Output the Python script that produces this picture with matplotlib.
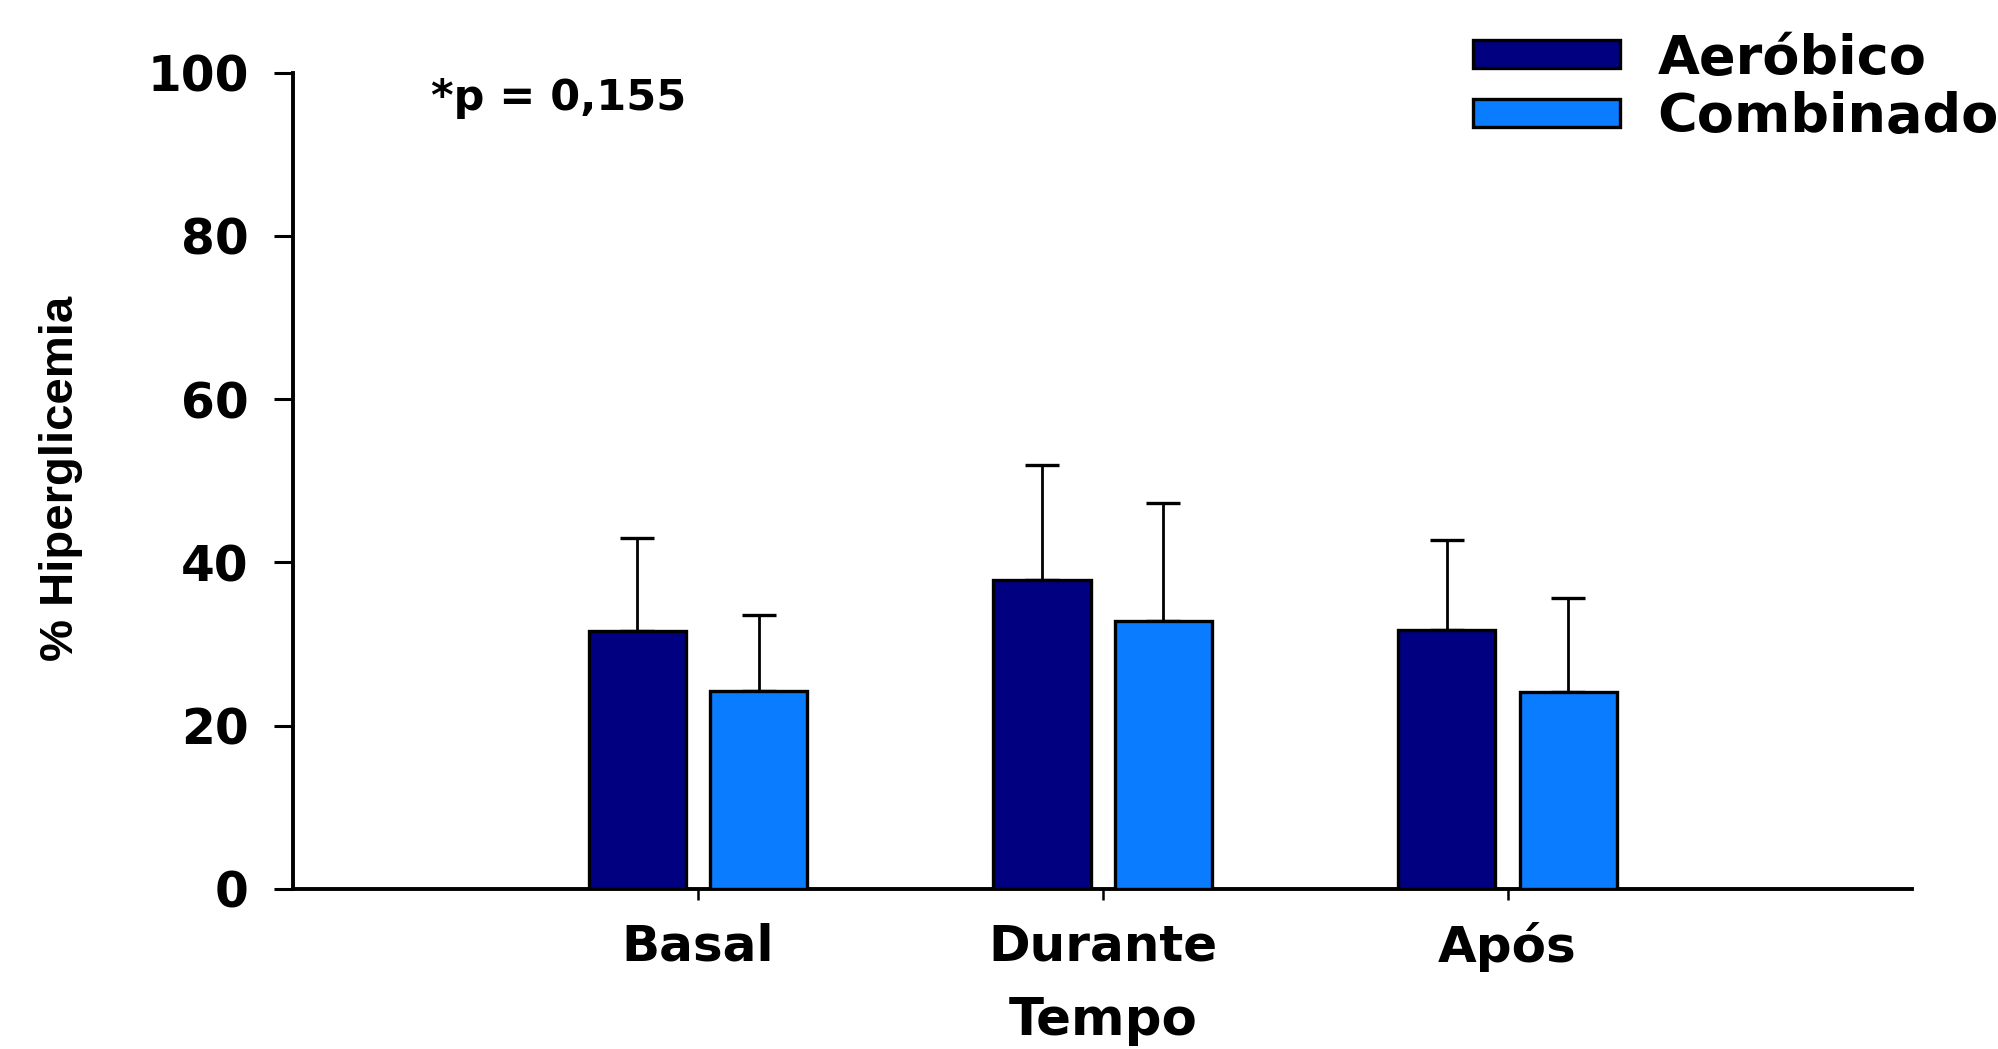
import matplotlib
matplotlib.use("Agg")
import matplotlib.pyplot as plt
from matplotlib import font_manager
import numpy as np

categories = ["Basal", "Durante", "Após"]
series_names = ["Aeróbico", "Combinado"]
aerobico = [31.6, 37.8, 31.7]
aerobico_err = [11.4, 14.1, 11.0]
combinado = [24.2, 32.8, 24.1]
combinado_err = [9.4, 14.5, 11.5]
yticks = [0, 20, 40, 60, 80, 100]
annotation = "*p = 0,155"
xlabel = "Tempo"
ylabel = "% Hiperglicemia"

colors = ["#000080", "#0A7CFF"]

def has_font(name):
    try:
        font_manager.findfont(font_manager.FontProperties(family=name, weight="bold"),
                              fallback_to_default=False)
        return True
    except Exception:
        return False

main_font = "DejaVu Sans"
ylab_font = "Liberation Sans Narrow" if has_font("Liberation Sans Narrow") else "Liberation Sans"

plt.rcParams["font.family"] = [main_font]
plt.rcParams["font.weight"] = "bold"

fig = plt.figure(figsize=(19.99, 10.49), dpi=100)
ax = fig.add_axes([0.1466, 0.1528, 0.8101, 0.7779])

x = np.arange(1, len(categories) + 1)
w = 0.24
off = 0.15
b1 = ax.bar(x - off, aerobico, width=w, color=colors[0], edgecolor="black", linewidth=2.4, zorder=3,
            label=series_names[0])
b2 = ax.bar(x + off, combinado, width=w, color=colors[1], edgecolor="black", linewidth=2.4, zorder=3,
            label=series_names[1])
for xs, vals, errs in [(x - off, aerobico, aerobico_err), (x + off, combinado, combinado_err)]:
    ax.errorbar(xs, vals, yerr=[np.zeros(len(errs)), errs], fmt="none", ecolor="black",
                elinewidth=2.0, capsize=12, capthick=2.4, zorder=2)

ax.set_xlim(0, 4)
ax.set_ylim(0, 100)
ax.set_yticks(yticks)
ax.set_xticks(x)
ax.set_xticklabels(categories)
ax.spines["top"].set_visible(False)
ax.spines["right"].set_visible(False)
ax.spines["left"].set_linewidth(2.8)
ax.spines["bottom"].set_linewidth(2.8)
ax.tick_params(axis="y", direction="out", length=14, width=2.2, pad=18, labelsize=35)
ax.tick_params(axis="x", direction="out", length=8, width=1.8, pad=16, labelsize=36)
for lab in ax.get_xticklabels() + ax.get_yticklabels():
    lab.set_fontweight("bold")

ax.set_xlabel(xlabel, fontsize=37, fontweight="bold")
ax.xaxis.set_label_coords(0.5, -0.162)
ax.xaxis.label.set_va("center")
ax.set_ylabel(ylabel, fontsize=34, fontweight="bold", family=[ylab_font, "DejaVu Sans"])
ax.yaxis.set_label_coords(-0.1433, 0.503)
ax.yaxis.label.set_va("center")

ax.text(0.0852, 0.969, annotation, transform=ax.transAxes, fontsize=31, fontweight="bold",
        ha="left", va="center")

leg = ax.legend(handles=[b1, b2], loc="upper left", bbox_to_anchor=(0.737, 0.969),
                bbox_transform=fig.transFigure, frameon=False, fontsize=39,
                handlelength=2.7, handleheight=0.42, handletextpad=0.7, labelspacing=0.12,
                borderpad=0, borderaxespad=0)
for t in leg.get_texts():
    t.set_fontweight("bold")

fig.savefig("out.png", dpi=100)
